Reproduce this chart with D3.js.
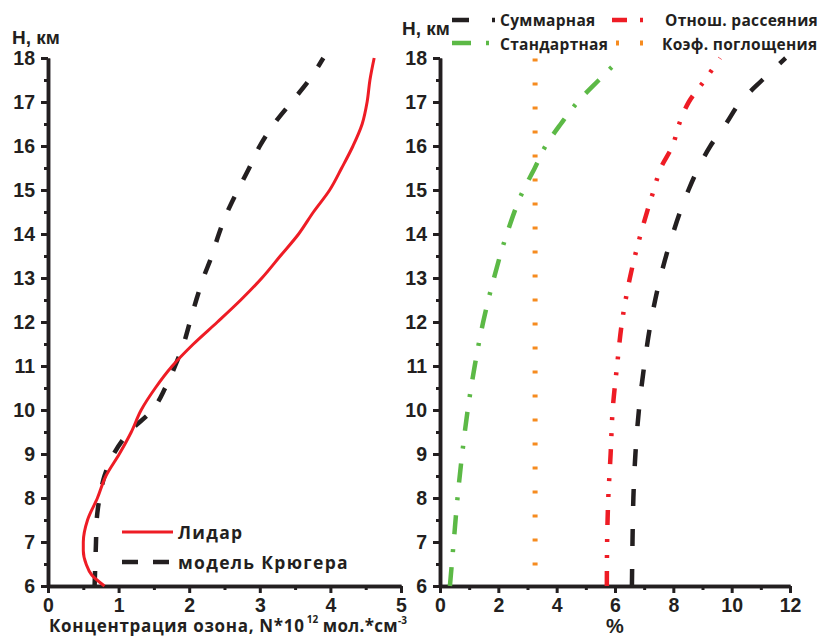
<!DOCTYPE html>
<html>
<head>
<meta charset="utf-8">
<script src="https://cdn.jsdelivr.net/npm/d3@7"></script>
<style>
  body { margin: 0; background: #fff; }
  .tick text { font-family: "Liberation Sans", Arial, sans-serif; font-weight: bold; font-size: 19.5px; fill: #231f20; }
  .lab { font-family: "Open Sans", sans-serif; font-weight: bold; fill: #231f20; }
</style>
</head>
<body>
<svg id="chart" width="824" height="637"></svg>
<script>
// heights, km
const hLidar = [6, 6.25, 6.5, 6.8, 7, 7.5, 8, 8.5, 9, 9.5, 10, 10.5, 11, 11.5, 12, 12.5, 13, 13.5, 14, 14.5, 15, 15.5, 16, 16.5, 17, 17.5, 18];
const lidar  = [0.8, 0.62, 0.54, 0.5, 0.5, 0.56, 0.7, 0.82, 1.01, 1.18, 1.32, 1.52, 1.76, 2.06, 2.4, 2.73, 3.03, 3.29, 3.55, 3.76, 3.99, 4.16, 4.32, 4.45, 4.52, 4.56, 4.62];

const hModel = [6, 7, 7.5, 8, 8.5, 9, 9.5, 10, 10.5, 11, 11.5, 12, 12.5, 13, 13.5, 14, 14.5, 15, 15.5, 16, 16.5, 17, 17.5, 18];
const kruger = [0.66, 0.68, 0.69, 0.73, 0.8, 0.93, 1.15, 1.48, 1.66, 1.8, 1.92, 2.01, 2.1, 2.2, 2.32, 2.42, 2.54, 2.69, 2.85, 3.0, 3.2, 3.45, 3.7, 3.9];

// errors, %
const hErr = [6, 7, 8, 9, 10, 11, 12, 13, 14, 15, 15.5, 16, 16.5, 17, 17.5, 18];
const errTotal    = [6.58, 6.6, 6.63, 6.7, 6.82, 7.0, 7.23, 7.55, 7.98, 8.52, 8.86, 9.27, 9.8, 10.3, 11.05, 11.85];
const errScatter  = [5.72, 5.73, 5.77, 5.85, 5.92, 6.07, 6.24, 6.51, 6.88, 7.33, 7.57, 7.97, 8.2, 8.53, 9.08, 9.6];
const errStandard = [0.34, 0.47, 0.6, 0.76, 0.95, 1.19, 1.48, 1.85, 2.29, 2.86, 3.25, 3.62, 4.14, 4.72, 5.45, 6.2];
const errAbsorb   = [3.26, 3.26, 3.26, 3.26, 3.26, 3.26, 3.26, 3.26, 3.26, 3.26, 3.26, 3.26, 3.26, 3.26, 3.26, 3.26];

const hTicks = d3.range(6, 18.01, 1);
const concTicks = [0, 1, 2, 3, 4, 5];
const pctTicks = [0, 2, 4, 6, 8, 10, 12];

const colBlack = "#231f20", colRed = "#ee1c25", colGreen = "#5cb946", colOrange = "#f68b1f";

const svg = d3.select("#chart");

const y = d3.scaleLinear().domain([6, 18]).range([586, 58]);
const xL = d3.scaleLinear().domain([0, 5]).range([48, 401]);
const xR = d3.scaleLinear().domain([0, 12]).range([440, 790]);

function drawAxes(x, xTicks, xMinor) {
  const g = svg.append("g");
  // y major + minor
  g.append("g").attr("transform", `translate(${x.range()[0]},0)`)
    .call(d3.axisLeft(y).tickValues(d3.range(6.5, 18, 1)).tickSize(4).tickFormat("").tickSizeOuter(0));
  g.append("g").attr("transform", `translate(${x.range()[0]},0)`)
    .call(d3.axisLeft(y).tickValues(hTicks).tickSize(7).tickPadding(6).tickFormat(d3.format("d")).tickSizeOuter(0));
  // x major + minor
  g.append("g").attr("transform", `translate(0,${y.range()[0]})`)
    .call(d3.axisBottom(x).tickValues(xMinor).tickSize(4).tickFormat("").tickSizeOuter(0));
  g.append("g").attr("transform", `translate(0,${y.range()[0]})`)
    .call(d3.axisBottom(x).tickValues(xTicks).tickSize(7).tickPadding(5).tickFormat(d3.format("d")).tickSizeOuter(0));
  g.selectAll(".domain").attr("stroke", colBlack).attr("stroke-width", 3.5);
  g.selectAll(".tick line").attr("stroke", colBlack).attr("stroke-width", 3);
  return g;
}

drawAxes(xL, concTicks, d3.range(0.5, 5, 1));
drawAxes(xR, pctTicks, d3.range(1, 12, 2));

function curve(x, hs, vs, c) {
  return d3.line().x((d, i) => x(vs[i])).y(d => y(d)).curve(c || d3.curveMonotoneY)(hs);
}

// left panel
svg.append("path").attr("d", curve(xL, hModel, kruger))
  .attr("fill", "none").attr("stroke", colBlack).attr("stroke-width", 4.5).attr("stroke-dasharray", "15,19");
svg.append("path").attr("d", curve(xL, hLidar, lidar))
  .attr("fill", "none").attr("stroke", colRed).attr("stroke-width", 3);

// right panel
const rightSeries = [
  { v: errAbsorb, color: colOrange, w: 5, dash: "3,21", off: 3.5, c: d3.curveLinear },
  { v: errStandard, color: colGreen, w: 4.5, dash: "19,15,3,15" },
  { v: errScatter, color: colRed, w: 4.5, dash: "15,13,3,13,3,14" },
  { v: errTotal, color: colBlack, w: 4.5, dash: "17,23" }
];
rightSeries.forEach(s => {
  svg.append("path").attr("d", curve(xR, hErr, s.v, s.c))
    .attr("fill", "none").attr("stroke", s.color).attr("stroke-width", s.w)
    .attr("stroke-dasharray", s.dash).attr("stroke-dashoffset", s.off || 0);
});

// labels
const tick = (x, yy, t, size) => svg.append("text").attr("x", x).attr("y", yy).text(t)
  .style("font-family", "'Liberation Sans', Arial, sans-serif").style("font-weight", "bold")
  .style("font-size", size + "px").attr("fill", colBlack);
tick(12, 44, "H, км", 19);
tick(402, 35, "H, км", 19);
tick(xR(6), 633, "%", 20).attr("text-anchor", "middle");

const title = svg.append("text").attr("class", "lab").attr("x", 49).attr("y", 632)
  .style("font-size", "17px").style("letter-spacing", "0.7px");
title.append("tspan").text("Концентрация озона, N*10");
title.append("tspan").text("12").attr("dy", -9).style("font-size", "10px").attr("dx", 2).style("letter-spacing", "0px");
title.append("tspan").text(" мол.*см").attr("dy", 9).style("letter-spacing", "0.3px");
title.append("tspan").text("-3").attr("dy", -8).style("font-size", "10px").style("letter-spacing", "0px");

// left legend
svg.append("line").attr("x1", 122).attr("x2", 173).attr("y1", 532).attr("y2", 532)
  .attr("stroke", colRed).attr("stroke-width", 3);
svg.append("line").attr("x1", 122).attr("x2", 170).attr("y1", 562).attr("y2", 562)
  .attr("stroke", colBlack).attr("stroke-width", 4.5).attr("stroke-dasharray", "16,15");
svg.append("text").attr("class", "lab").attr("x", 178).attr("y", 539).style("font-size", "17.5px").style("letter-spacing", "1.3px").text("Лидар");
svg.append("text").attr("class", "lab").attr("x", 178).attr("y", 569).style("font-size", "17.5px").style("letter-spacing", "1.3px").text("модель Крюгера");

// top legend
const legendItems = [
  { x1: 452, x2: 495, ly: 20, ty: 26, tx: 500, s: rightSeries[3], name: "Суммарная" },
  { x1: 612, x2: 643, ly: 20, ty: 26, tx: 665, s: rightSeries[2], name: "Отнош. рассеяния" },
  { x1: 452, x2: 490, ly: 43, ty: 50, tx: 500, s: rightSeries[1], name: "Стандартная" },
  { x1: 616, x2: 643, ly: 43, ty: 50, tx: 662, s: rightSeries[0], name: "Коэф. поглощения" }
];
legendItems.forEach(d => {
  svg.append("line").attr("x1", d.x1).attr("x2", d.x2).attr("y1", d.ly).attr("y2", d.ly)
    .attr("stroke", d.s.color).attr("stroke-width", d.s.w).attr("stroke-dasharray", d.s.dash);
  svg.append("text").attr("class", "lab").attr("x", d.tx).attr("y", d.ty)
    .style("font-size", "15.5px").style("letter-spacing", "0.3px").text(d.name);
});
</script>
</body>
</html>
